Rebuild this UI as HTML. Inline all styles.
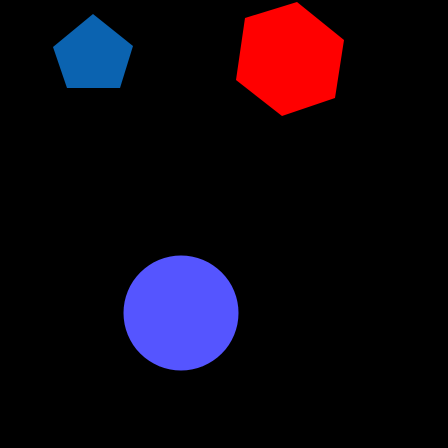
<!DOCTYPE html>
<html>
<head>
<meta charset="utf-8">
<style>
html,body{margin:0;padding:0;background:#000;}
svg{display:block;}
</style>
</head>
<body>
<svg width="448" height="448" viewBox="0 0 448 448">
  <rect x="0" y="0" width="448" height="448" fill="#000"/>
  <polygon points="93,14 133,46 120,88 67,88 53,47" fill="#0b63b0"/>
  <polygon points="297,2 344,40 335,98 282,116 236,80 245,18" fill="#ff0000"/>
  <circle cx="181" cy="313" r="57.5" fill="#5555ff"/>
</svg>
</body>
</html>
